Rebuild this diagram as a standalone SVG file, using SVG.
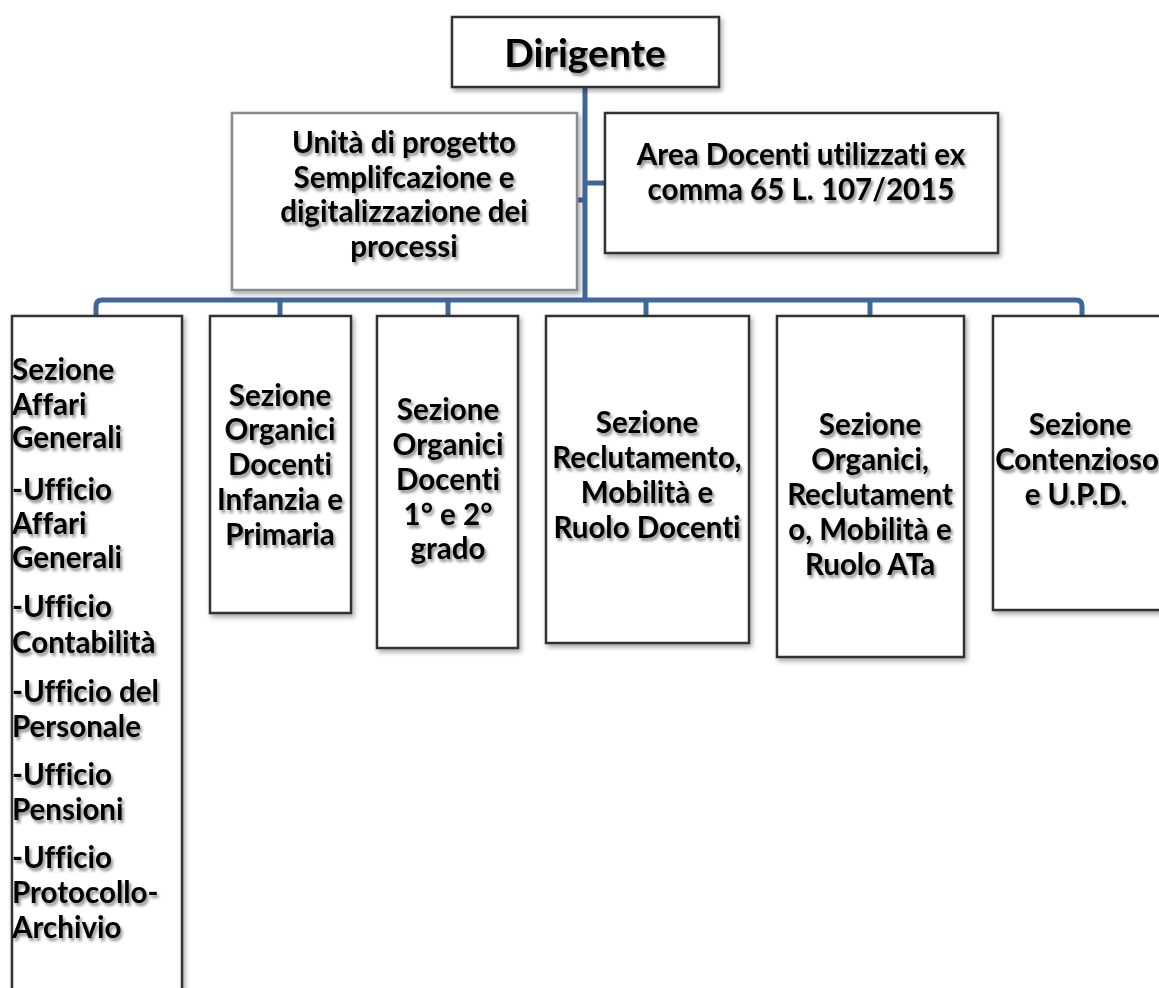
<svg xmlns="http://www.w3.org/2000/svg" width="1159" height="988" viewBox="0 0 1159 988">
<defs>
<filter id="ts" x="-10%" y="-30%" width="120%" height="160%"><feDropShadow dx="2" dy="3" stdDeviation="1.8" flood-color="#000" flood-opacity="0.45"/></filter>
<filter id="bs" x="-10%" y="-10%" width="120%" height="120%"><feDropShadow dx="2" dy="3" stdDeviation="2.5" flood-color="#000" flood-opacity="0.35"/></filter>
</defs>
<style>
.box{fill:#fff;stroke:#333;stroke-width:2.5;filter:url(#bs)}
.gbox{fill:#fff;stroke:#8a8a8a;stroke-width:2.5;filter:url(#bs)}
text{font-family:Lato,"Open Sans","Liberation Sans",sans-serif;font-weight:bold;font-size:29.5px;fill:#000;filter:url(#ts);font-variant-ligatures:none;font-feature-settings:"liga" 0}
.c{text-anchor:middle}
.conn{fill:none;stroke:#41679a;stroke-width:5}
</style>
<g id="connectors">
<path class="conn" d="M585 87 V300"/>
<path class="conn" d="M577 200 H585"/>
<path class="conn" d="M585 183 H605"/>
<path class="conn" d="M96 316 V306 Q96 300 102 300 H1076 Q1082 300 1082 306 V316"/>
<path class="conn" d="M280 300 V316"/>
<path class="conn" d="M448 300 V316"/>
<path class="conn" d="M646 300 V316"/>
<path class="conn" d="M870 300 V316"/>
</g>
<g id="n-dirigente">
<rect class="box" x="452" y="17" width="267" height="70"/>
<text class="c" x="585" y="67" style="font-size:39px">Dirigente</text>
</g>
<g id="n-unita">
<rect class="gbox" x="232" y="113" width="345" height="177"/>
<text class="c" x="404" y="153">Unità di progetto</text>
<text class="c" x="404" y="188">Semplifcazione e</text>
<text class="c" x="404" y="222">digitalizzazione dei</text>
<text class="c" x="404" y="257">processi</text>
</g>
<g id="n-area">
<rect class="box" x="605" y="113" width="393" height="140"/>
<text class="c" x="801" y="165">Area Docenti utilizzati ex</text>
<text class="c" x="801" y="200">comma 65 L. 107/2015</text>
</g>
<g id="n-affari">
<rect class="box" x="12" y="316" width="170" height="700"/>
<text x="12" y="380">Sezione</text>
<text x="12" y="415">Affari</text>
<text x="12" y="448">Generali</text>
<text x="12" y="500">-Ufficio</text>
<text x="12" y="534">Affari</text>
<text x="12" y="568">Generali</text>
<text x="12" y="617">-Ufficio</text>
<text x="12" y="653">Contabilità</text>
<text x="12" y="702">-Ufficio del</text>
<text x="12" y="737">Personale</text>
<text x="12" y="785">-Ufficio</text>
<text x="12" y="820">Pensioni</text>
<text x="12" y="868">-Ufficio</text>
<text x="12" y="903">Protocollo-</text>
<text x="12" y="938">Archivio</text>
</g>
<g id="n-infanzia">
<rect class="box" x="210" y="316" width="141" height="297"/>
<text class="c" x="280" y="406">Sezione</text>
<text class="c" x="280" y="440">Organici</text>
<text class="c" x="280" y="475">Docenti</text>
<text class="c" x="280" y="510">Infanzia e</text>
<text class="c" x="280" y="545">Primaria</text>
</g>
<g id="n-grado">
<rect class="box" x="377" y="316" width="141" height="332"/>
<text class="c" x="448" y="420">Sezione</text>
<text class="c" x="448" y="455">Organici</text>
<text class="c" x="448" y="490">Docenti</text>
<text class="c" x="448" y="525">1° e 2°</text>
<text class="c" x="448" y="559">grado</text>
</g>
<g id="n-reclutamento">
<rect class="box" x="546" y="316" width="203" height="327"/>
<text class="c" x="647" y="433">Sezione</text>
<text class="c" x="647" y="468">Reclutamento,</text>
<text class="c" x="647" y="503">Mobilità e</text>
<text class="c" x="647" y="538">Ruolo Docenti</text>
</g>
<g id="n-ata">
<rect class="box" x="777" y="316" width="187" height="341"/>
<text class="c" x="870" y="435">Sezione</text>
<text class="c" x="870" y="470">Organici,</text>
<text class="c" x="870" y="505">Reclutament</text>
<text class="c" x="870" y="540">o, Mobilità e</text>
<text class="c" x="870" y="575">Ruolo ATa</text>
</g>
<g id="n-contenzioso">
<rect class="box" x="993" y="316" width="190" height="294"/>
<text class="c" x="1080" y="435">Sezione</text>
<text class="c" x="1077" y="470">Contenzioso</text>
<text class="c" x="1076" y="505">e U.P.D.</text>
</g>
</svg>
